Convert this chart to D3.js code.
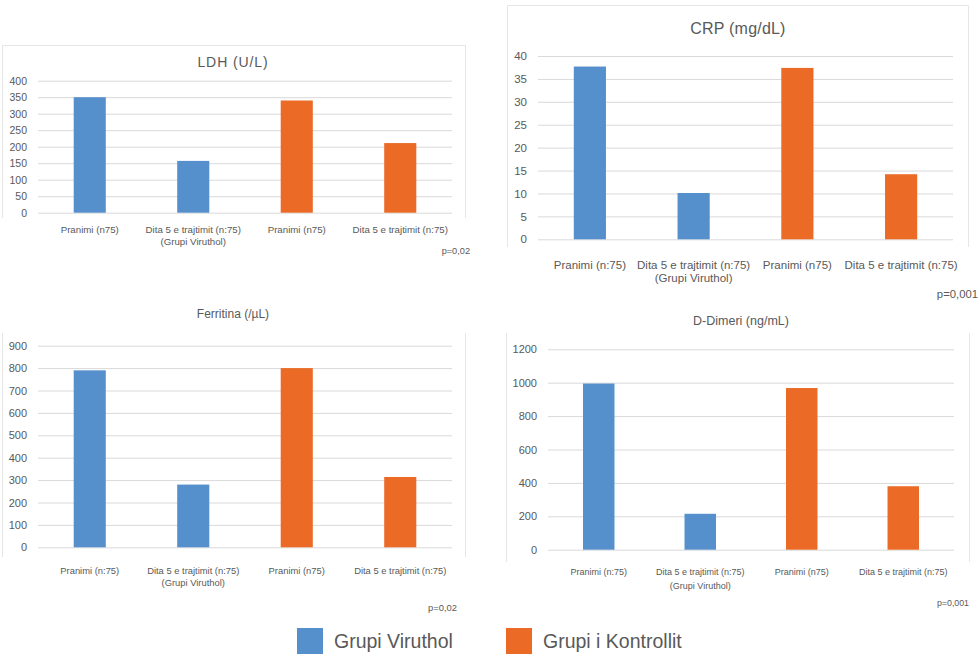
<!DOCTYPE html>
<html>
<head>
<meta charset="utf-8">
<script src="https://cdn.jsdelivr.net/npm/d3@7"></script>
<style>
  html, body { margin: 0; padding: 0; background: #fff; }
  svg { display: block; font-family: "Liberation Sans", Arial, sans-serif; }
</style>
</head>
<body>
<svg id="chart" width="980" height="664"></svg>
<script>
// ---- data ----
const groups = ["Grupi Viruthol", "Grupi Viruthol", "Grupi i Kontrollit", "Grupi i Kontrollit"];
const legendLabels = ["Grupi Viruthol", "Grupi i Kontrollit"];
const catsLDH = ["Pranimi (n75)", "Dita 5 e trajtimit (n:75)|(Grupi Viruthol)", "Pranimi (n75)", "Dita 5 e trajtimit (n:75)"];
const catsOther = ["Pranimi (n:75)", "Dita 5 e trajtimit (n:75)|(Grupi Viruthol)", "Pranimi (n75)", "Dita 5 e trajtimit (n:75)"];
const ldhValues = [350, 157, 340, 211];
const crpValues = [37.7, 10.1, 37.4, 14.2];
const ferritinValues = [790, 280, 800, 314];
const dDimerValues = [995, 215, 968, 380];
const ldhTicks = [0, 50, 100, 150, 200, 250, 300, 350, 400];
const crpTicks = [0, 5, 10, 15, 20, 25, 30, 35, 40];
const ferritinTicks = [0, 100, 200, 300, 400, 500, 600, 700, 800, 900];
const dDimerTicks = [0, 200, 400, 600, 800, 1000, 1200];
const titles = ["LDH (U/L)", "CRP (mg/dL)", "Ferritina (/µL)", "D-Dimeri (ng/mL)"];
const pValues = ["p=0,02", "p=0,001", "p=0,02", "p=0,001"];

// ---- styles ----
const colorScale = d3.scaleOrdinal().domain(legendLabels).range(["#5590CC", "#EA6A26"]);
const textColor = "#595959";
const gridColor = "#d9d9d9";
const frameColor = "#e6e6e6";

const svg = d3.select("#chart");

function panel(cfg) {
  const g = svg.append("g");
  // frame
  g.append("path")
    .attr("d", cfg.frame)
    .attr("fill", "none").attr("stroke", frameColor).attr("stroke-width", 1);

  const x = d3.scaleBand().domain(d3.range(cfg.values.length))
    .range([cfg.x0, cfg.x1]).paddingInner(0.69).paddingOuter(0.345);
  const y = d3.scaleLinear().domain([0, d3.max(cfg.ticks)]).range([cfg.yb, cfg.yt]);

  // gridlines + tick labels via axis
  const axis = d3.axisLeft(y).tickValues(cfg.ticks).tickSize(-(cfg.x1 - cfg.x0)).tickPadding(11)
    .tickFormat(d3.format("d"));
  const ag = g.append("g").attr("transform", `translate(${cfg.x0},0)`).call(axis);
  ag.select(".domain").remove();
  ag.selectAll(".tick line").attr("stroke", gridColor).attr("stroke-width", 1);
  ag.selectAll(".tick text").attr("fill", textColor).style("font-size", cfg.tickFont + "px");

  // bars
  g.selectAll("rect.bar").data(cfg.values).enter().append("rect")
    .attr("class", "bar")
    .attr("x", (d, i) => x(i))
    .attr("width", x.bandwidth())
    .attr("y", d => y(d))
    .attr("height", d => y(0) - y(d))
    .attr("fill", (d, i) => colorScale(groups[i]));

  // category labels
  cfg.cats.forEach((c, i) => {
    const lines = c.split("|");
    const t = g.append("text")
      .attr("x", x(i) + x.bandwidth() / 2)
      .attr("y", cfg.labelY)
      .attr("text-anchor", "middle")
      .attr("fill", textColor)
      .style("font-size", cfg.labelFont + "px");
    lines.forEach((l, k) => {
      t.append("tspan").attr("x", x(i) + x.bandwidth() / 2)
        .attr("dy", k === 0 ? 0 : cfg.lineGap).text(l);
    });
  });

  // title
  g.append("text").attr("x", cfg.titleX).attr("y", cfg.titleY)
    .attr("text-anchor", "middle").attr("fill", textColor)
    .style("font-size", cfg.titleFont + "px")
    .style("letter-spacing", (cfg.titleSpacing || 0) + "px")
    .text(cfg.title);

  // p value
  g.append("text").attr("x", cfg.pX).attr("y", cfg.pY)
    .attr("text-anchor", "end").attr("fill", textColor)
    .style("font-size", cfg.pFont + "px")
    .text(cfg.p);
}

panel({
  values: ldhValues, ticks: ldhTicks, cats: catsLDH, title: titles[0], p: pValues[0],
  x0: 38, x1: 452, yt: 80.7, yb: 212.7,
  tickFont: 10.5, labelFont: 9.7, labelY: 232.5, lineGap: 12,
  titleX: 233, titleY: 67, titleFont: 14, titleSpacing: 0.9,
  pX: 470, pY: 254, pFont: 9.2,
  frame: "M2.5,218 V45.5 H465.5 V218"
});

panel({
  values: crpValues, ticks: crpTicks, cats: catsOther, title: titles[1], p: pValues[1],
  x0: 538, x1: 953, yt: 56, yb: 239.3,
  tickFont: 11.5, labelFont: 11.5, labelY: 269, lineGap: 13,
  titleX: 738, titleY: 34, titleFont: 16, titleSpacing: 0.2,
  pX: 978, pY: 298, pFont: 11.3,
  frame: "M507.5,247 V5.5 H968.5 V247"
});

panel({
  values: ferritinValues, ticks: ferritinTicks, cats: catsOther, title: titles[2], p: pValues[2],
  x0: 38, x1: 452, yt: 345.7, yb: 547.3,
  tickFont: 11, labelFont: 9.4, labelY: 573.5, lineGap: 12,
  titleX: 233, titleY: 318, titleFont: 12,
  pX: 457, pY: 611, pFont: 9.4,
  frame: "M2.5,333 V557 M465.5,333 V557"
});

panel({
  values: dDimerValues, ticks: dDimerTicks, cats: catsOther, title: titles[3], p: pValues[3],
  x0: 548, x1: 954, yt: 349.3, yb: 549.7,
  tickFont: 11, labelFont: 9, labelY: 574.5, lineGap: 14,
  titleX: 741, titleY: 325, titleFont: 12.5,
  pX: 969, pY: 606, pFont: 8.8,
  frame: "M506.5,333 V562 M969.5,333 V562"
});

// legend
const legendX = [297, 506];
legendLabels.forEach((l, i) => {
  svg.append("rect").attr("x", legendX[i]).attr("y", 628).attr("width", 26).attr("height", 26)
    .attr("fill", colorScale(l));
  svg.append("text").attr("x", legendX[i] + 37).attr("y", 648)
    .attr("fill", textColor).style("font-size", "19.5px").text(l);
});
</script>
</body>
</html>
